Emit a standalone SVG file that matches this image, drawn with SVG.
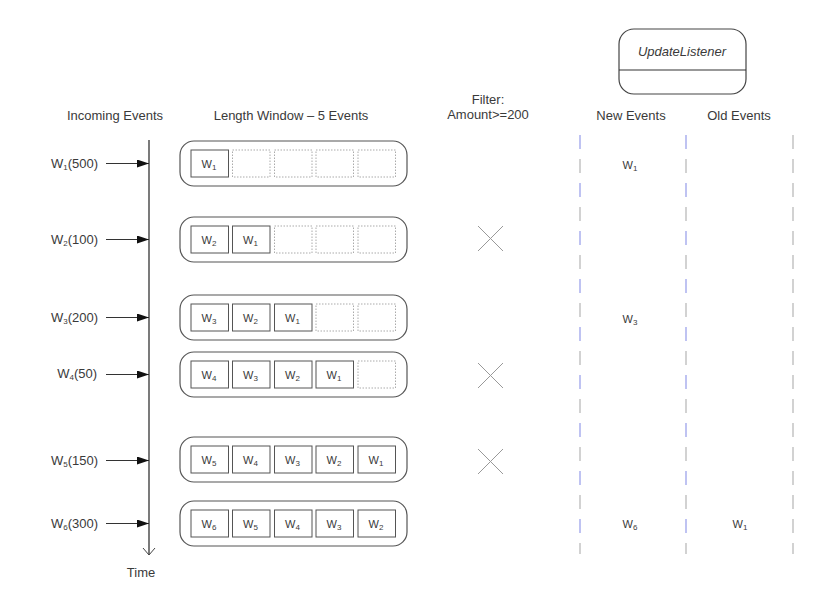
<svg xmlns="http://www.w3.org/2000/svg" width="816" height="589" viewBox="0 0 816 589">
<style>
text{font-family:"Liberation Sans",Arial,sans-serif;fill:#3a3a3a}
.h{font-size:13px;text-anchor:middle}
.lbl{font-size:13px;text-anchor:end}
.w{font-size:11px;text-anchor:middle}
.s{font-size:8px}
.win{fill:#fff;stroke:#555;stroke-width:1.2}
.full{fill:#fff;stroke:#555;stroke-width:1}
.empty{fill:none;stroke:#aaa;stroke-width:1;stroke-dasharray:1.5 1.5}
.arr{stroke:#333;stroke-width:1.2;fill:none}
.x{stroke:#999;stroke-width:1;fill:none}
.blue{stroke:#aab0ee;stroke-width:1.5;fill:none;stroke-dasharray:14 34}
.gray{stroke:#c4c4c4;stroke-width:1.5;fill:none;stroke-dasharray:14 34}
</style>
<defs>
<marker id="fa" markerWidth="12" markerHeight="8" refX="12" refY="4" orient="auto" markerUnits="userSpaceOnUse"><path d="M0,0 L12,4 L0,8 Z" fill="#111"/></marker>
</defs>

<g id="headers">
<text class="h" x="115" y="120">Incoming Events</text>
<text class="h" x="291" y="120">Length Window – 5 Events</text>
<text class="h" x="488" y="104">Filter:</text>
<text class="h" x="488" y="119">Amount&gt;=200</text>
<text class="h" x="631" y="120">New Events</text>
<text class="h" x="739" y="120">Old Events</text>
<text class="h" x="141" y="577">Time</text>
</g>

<g id="updatelistener">
<rect x="619" y="29" width="127" height="65" rx="15" fill="#fff" stroke="#444" stroke-width="1.2"/>
<line x1="619" y1="70" x2="746" y2="70" stroke="#333" stroke-width="1.2"/>
<text class="h" x="682" y="56" font-style="italic" font-size="12.5">UpdateListener</text>
</g>

<g id="timeline">
<line x1="149" y1="140" x2="149" y2="555" stroke="#222" stroke-width="1.2"/>
<path d="M143,548 L149,555 L155,548" stroke="#444" stroke-width="1" fill="none"/>
</g>

<g id="lanes">
<line class="blue" x1="580" y1="135" x2="580" y2="554"/>
<line class="gray" x1="580" y1="159" x2="580" y2="554"/>
<line class="blue" x1="686" y1="135" x2="686" y2="554"/>
<line class="gray" x1="686" y1="159" x2="686" y2="554"/>
<line class="gray" x1="793" y1="135" x2="793" y2="554"/>
<line class="gray" x1="793" y1="159" x2="793" y2="554"/>
</g>

<g id="connectors">
<line class="arr" x1="106" y1="163.5" x2="149" y2="163.5" marker-end="url(#fa)"/>
<line class="arr" x1="106" y1="239.5" x2="149" y2="239.5" marker-end="url(#fa)"/>
<line class="arr" x1="106" y1="317.5" x2="149" y2="317.5" marker-end="url(#fa)"/>
<line class="arr" x1="106" y1="374.5" x2="149" y2="374.5" marker-end="url(#fa)"/>
<line class="arr" x1="106" y1="460.5" x2="149" y2="460.5" marker-end="url(#fa)"/>
<line class="arr" x1="106" y1="523.5" x2="149" y2="523.5" marker-end="url(#fa)"/>
</g>

<g id="event-labels">
<text class="lbl" x="98" y="168">W<tspan class="s" dy="2">1</tspan><tspan dy="-2">(500)</tspan></text>
<text class="lbl" x="98" y="244">W<tspan class="s" dy="2">2</tspan><tspan dy="-2">(100)</tspan></text>
<text class="lbl" x="98" y="322">W<tspan class="s" dy="2">3</tspan><tspan dy="-2">(200)</tspan></text>
<text class="lbl" x="97" y="378">W<tspan class="s" dy="2">4</tspan><tspan dy="-2">(50)</tspan></text>
<text class="lbl" x="98" y="465">W<tspan class="s" dy="2">5</tspan><tspan dy="-2">(150)</tspan></text>
<text class="lbl" x="98" y="528">W<tspan class="s" dy="2">6</tspan><tspan dy="-2">(300)</tspan></text>
</g>

<g id="window1">
<rect class="win" x="180" y="141" width="227" height="45" rx="14"/>
<rect class="full" x="191" y="150" width="37.5" height="27"/><text class="w" x="209" y="168">W<tspan class="s" dy="2">1</tspan></text>
<rect class="empty" x="232.5" y="150" width="37.5" height="27"/>
<rect class="empty" x="274.5" y="150" width="37.5" height="27"/>
<rect class="empty" x="316" y="150" width="37.5" height="27"/>
<rect class="empty" x="358" y="150" width="37.5" height="27"/>
</g>

<g id="window2">
<rect class="win" x="180" y="217" width="227" height="45" rx="14"/>
<rect class="full" x="191" y="226" width="37.5" height="27"/><text class="w" x="209" y="244">W<tspan class="s" dy="2">2</tspan></text>
<rect class="full" x="232.5" y="226" width="37.5" height="27"/><text class="w" x="250.5" y="244">W<tspan class="s" dy="2">1</tspan></text>
<rect class="empty" x="274.5" y="226" width="37.5" height="27"/>
<rect class="empty" x="316" y="226" width="37.5" height="27"/>
<rect class="empty" x="358" y="226" width="37.5" height="27"/>
</g>

<g id="window3">
<rect class="win" x="180" y="295" width="227" height="45" rx="14"/>
<rect class="full" x="191" y="304" width="37.5" height="27"/><text class="w" x="209" y="322">W<tspan class="s" dy="2">3</tspan></text>
<rect class="full" x="232.5" y="304" width="37.5" height="27"/><text class="w" x="250.5" y="322">W<tspan class="s" dy="2">2</tspan></text>
<rect class="full" x="274.5" y="304" width="37.5" height="27"/><text class="w" x="292.5" y="322">W<tspan class="s" dy="2">1</tspan></text>
<rect class="empty" x="316" y="304" width="37.5" height="27"/>
<rect class="empty" x="358" y="304" width="37.5" height="27"/>
</g>

<g id="window4">
<rect class="win" x="180" y="352" width="227" height="45" rx="14"/>
<rect class="full" x="191" y="361" width="37.5" height="27"/><text class="w" x="209" y="379">W<tspan class="s" dy="2">4</tspan></text>
<rect class="full" x="232.5" y="361" width="37.5" height="27"/><text class="w" x="250.5" y="379">W<tspan class="s" dy="2">3</tspan></text>
<rect class="full" x="274.5" y="361" width="37.5" height="27"/><text class="w" x="292.5" y="379">W<tspan class="s" dy="2">2</tspan></text>
<rect class="full" x="316" y="361" width="37.5" height="27"/><text class="w" x="334" y="379">W<tspan class="s" dy="2">1</tspan></text>
<rect class="empty" x="358" y="361" width="37.5" height="27"/>
</g>

<g id="window5">
<rect class="win" x="180" y="437" width="227" height="45" rx="14"/>
<rect class="full" x="191" y="446" width="37.5" height="27"/><text class="w" x="209" y="464">W<tspan class="s" dy="2">5</tspan></text>
<rect class="full" x="232.5" y="446" width="37.5" height="27"/><text class="w" x="250.5" y="464">W<tspan class="s" dy="2">4</tspan></text>
<rect class="full" x="274.5" y="446" width="37.5" height="27"/><text class="w" x="292.5" y="464">W<tspan class="s" dy="2">3</tspan></text>
<rect class="full" x="316" y="446" width="37.5" height="27"/><text class="w" x="334" y="464">W<tspan class="s" dy="2">2</tspan></text>
<rect class="full" x="358" y="446" width="37.5" height="27"/><text class="w" x="376" y="464">W<tspan class="s" dy="2">1</tspan></text>
</g>

<g id="window6">
<rect class="win" x="180" y="501" width="227" height="45" rx="14"/>
<rect class="full" x="191" y="510" width="37.5" height="27"/><text class="w" x="209" y="528">W<tspan class="s" dy="2">6</tspan></text>
<rect class="full" x="232.5" y="510" width="37.5" height="27"/><text class="w" x="250.5" y="528">W<tspan class="s" dy="2">5</tspan></text>
<rect class="full" x="274.5" y="510" width="37.5" height="27"/><text class="w" x="292.5" y="528">W<tspan class="s" dy="2">4</tspan></text>
<rect class="full" x="316" y="510" width="37.5" height="27"/><text class="w" x="334" y="528">W<tspan class="s" dy="2">3</tspan></text>
<rect class="full" x="358" y="510" width="37.5" height="27"/><text class="w" x="376" y="528">W<tspan class="s" dy="2">2</tspan></text>
</g>

<g id="filter-marks">
<path class="x" d="M478,226 L503,251 M503,226 L478,251"/>
<path class="x" d="M478,363 L503,388 M503,363 L478,388"/>
<path class="x" d="M478,449 L503,474 M503,449 L478,474"/>
</g>

<g id="output-events">
<text class="w" x="630" y="169">W<tspan class="s" dy="2">1</tspan></text>
<text class="w" x="630" y="323">W<tspan class="s" dy="2">3</tspan></text>
<text class="w" x="630" y="528">W<tspan class="s" dy="2">6</tspan></text>
<text class="w" x="740" y="528">W<tspan class="s" dy="2">1</tspan></text>
</g>
</svg>
